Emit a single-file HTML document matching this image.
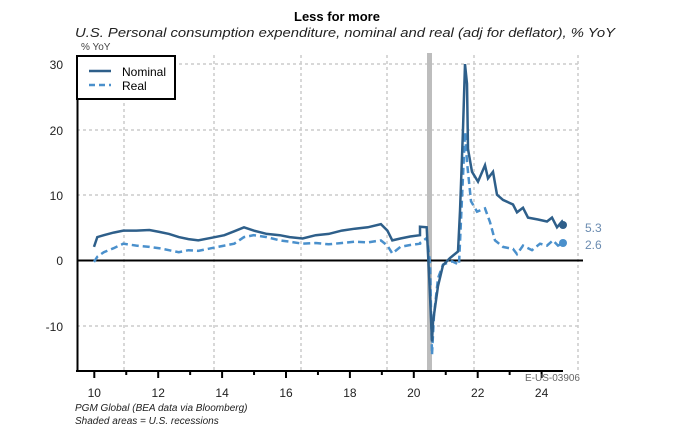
<!DOCTYPE html>
<html><head><meta charset="utf-8"><style>
html,body{margin:0;padding:0;background:#fff;}
svg{display:block;font-family:"Liberation Sans",sans-serif;}
</style></head><body>
<svg id="s" width="675" height="431" viewBox="0 0 675 431">
<text x="337" y="21" text-anchor="middle" font-size="13" font-weight="bold" fill="#000">Less for more</text>
<text x="75" y="37" font-size="13" font-style="italic" fill="#222" textLength="540" lengthAdjust="spacingAndGlyphs">U.S. Personal consumption expenditure, nominal and real (adj for deflator), % YoY</text>
<text x="81" y="50" font-size="10" fill="#444">% YoY</text>
<g stroke="#ccc" stroke-width="1.5" stroke-dasharray="3,3" fill="none">
<line x1="77" y1="64" x2="580" y2="64"/><line x1="77" y1="130" x2="580" y2="130"/><line x1="77" y1="195" x2="580" y2="195"/><line x1="77" y1="326" x2="580" y2="326"/>
<line x1="124" y1="55" x2="124" y2="370"/><line x1="214" y1="55" x2="214" y2="370"/><line x1="301" y1="55" x2="301" y2="370"/><line x1="387" y1="55" x2="387" y2="370"/><line x1="474" y1="55" x2="474" y2="370"/><line x1="578" y1="55" x2="578" y2="370"/>
</g>
<rect x="427" y="53" width="5" height="318" fill="#bdbdbd"/>
<line x1="77" y1="260.5" x2="583" y2="260.5" stroke="#000" stroke-width="2"/>
<line x1="77.5" y1="60" x2="77.5" y2="372" stroke="#000" stroke-width="2"/>
<line x1="76" y1="371" x2="563" y2="371" stroke="#000" stroke-width="2"/>
<g font-size="12" fill="#222" text-anchor="end">
<text x="63" y="69">30</text><text x="63" y="135">20</text><text x="63" y="200">10</text><text x="63" y="265">0</text><text x="63" y="331">-10</text>
</g>
<g id="ticks" stroke="#000" stroke-width="2"></g>
<g font-size="12" fill="#222" text-anchor="middle" id="xl"></g>
<path id="real" fill="none" stroke="#4a90cc" stroke-width="2.5" stroke-dasharray="7,4"/>
<path id="nom" fill="none" stroke="#2e5f8a" stroke-width="2.5"/>
<circle cx="563" cy="225" r="4" fill="#2e5f8a"/>
<circle cx="563" cy="243" r="4" fill="#4a90cc"/>
<text x="585" y="232" font-size="12" fill="#6a8bb0">5.3</text>
<text x="585" y="249" font-size="12" fill="#6a8bb0">2.6</text>
<rect x="77" y="56" width="98" height="43" fill="#fff" stroke="#000" stroke-width="2"/>
<line x1="89" y1="71" x2="111" y2="71" stroke="#2e5f8a" stroke-width="2.5"/>
<line x1="89" y1="85" x2="111" y2="85" stroke="#4a90cc" stroke-width="2.5" stroke-dasharray="6,4"/>
<text x="122" y="76" font-size="12" fill="#000">Nominal</text>
<text x="122" y="90" font-size="12" fill="#000">Real</text>
<text x="580" y="381" text-anchor="end" font-size="10" fill="#666">E-US-03906</text>
<text x="75" y="411" font-size="10" font-style="italic" fill="#222">PGM Global (BEA data via Bloomberg)</text>
<text x="75" y="424" font-size="10" font-style="italic" fill="#222">Shaded areas = U.S. recessions</text>
</svg>
<script>
function XL(t){return 94.3+31.95*(t-2010);}
function X(t){return 94+32.6*(t-2010);}
function Y(v){return 260-6.53*v;}
var ns="http://www.w3.org/2000/svg";
var tg=document.getElementById('ticks'),xl=document.getElementById('xl');
for(var y=2010;y<=2024;y++){var l=document.createElementNS(ns,'line');var x=XL(y);l.setAttribute('x1',x);l.setAttribute('x2',x);l.setAttribute('y1',371);l.setAttribute('y2',y%2==0?378:375);tg.appendChild(l);
if(y%2==0){var t=document.createElementNS(ns,'text');t.setAttribute('x',x);t.setAttribute('y',397);t.textContent=String(y-2000);xl.appendChild(t);}}
var N=[[2010,2],[2010.1,3.5],[2010.3,3.8],[2010.6,4.2],[2010.9,4.5],[2011.3,4.5],[2011.7,4.6],[2012,4.3],[2012.3,4],[2012.6,3.5],[2012.9,3.2],[2013.2,3],[2013.6,3.4],[2014,3.8],[2014.3,4.4],[2014.6,5],[2014.9,4.5],[2015.3,4],[2015.7,3.8],[2016,3.5],[2016.4,3.3],[2016.8,3.8],[2017.2,4],[2017.6,4.5],[2018,4.8],[2018.4,5],[2018.8,5.5],[2019,4.5],[2019.15,3],[2019.4,3.3],[2019.7,3.6],[2020,3.8]];
var R=[[2010,-0.3],[2010.1,0.5],[2010.3,1.2],[2010.6,1.8],[2010.9,2.5],[2011.3,2.2],[2011.7,2],[2012,1.8],[2012.3,1.5],[2012.6,1.2],[2012.9,1.5],[2013.2,1.4],[2013.6,1.8],[2014,2.2],[2014.3,2.5],[2014.6,3.5],[2014.9,3.8],[2015.3,3.5],[2015.7,3],[2016,2.8],[2016.4,2.5],[2016.8,2.6],[2017.2,2.4],[2017.6,2.6],[2018,2.8],[2018.4,2.7],[2018.8,3],[2019,2.2],[2019.15,1],[2019.4,2],[2019.7,2.3],[2020,2.5]];
var NP=[[420,5.1],[426.7,5],[429,-2],[432,-12.5],[433,-9.5],[438,-4],[443,-0.8],[450,0.3],[458,1.3],[460,7.5],[463,20],[465,30],[467,27],[468,17],[472,13.5],[478,12],[485,14.5],[488,12.5],[493,13.5],[497,10],[503,9.2],[513,8.5],[517,7.3],[523,8],[528,6.5],[538,6.2],[547,5.9],[552,6.5],[557,5],[562,5.9],[564,5.3]];
var RP=[[420,2.6],[427,3.4],[430,-0.4],[432,-14.5],[434,-8.4],[438,-2.8],[443,-0.7],[452,-0.2],[459,-0.7],[462,9.5],[465,19.6],[467,15],[471,9],[477,7.4],[485,7.9],[490,5.8],[495,3],[503,2],[513,1.7],[517,0.9],[523,2.2],[532,1.5],[540,2.5],[547,2.2],[553,3],[558,2.2],[563,2.6]];
function P(a,b){var s=a.map(function(p,i){return (i?'L':'M')+X(p[0]).toFixed(1)+','+Y(p[1]).toFixed(1);}).join('');
return s+b.map(function(p){return 'L'+p[0]+','+Y(p[1]).toFixed(1);}).join('');}
document.getElementById('nom').setAttribute('d',P(N,NP));
document.getElementById('real').setAttribute('d',P(R,RP));
</script>
</body></html>
